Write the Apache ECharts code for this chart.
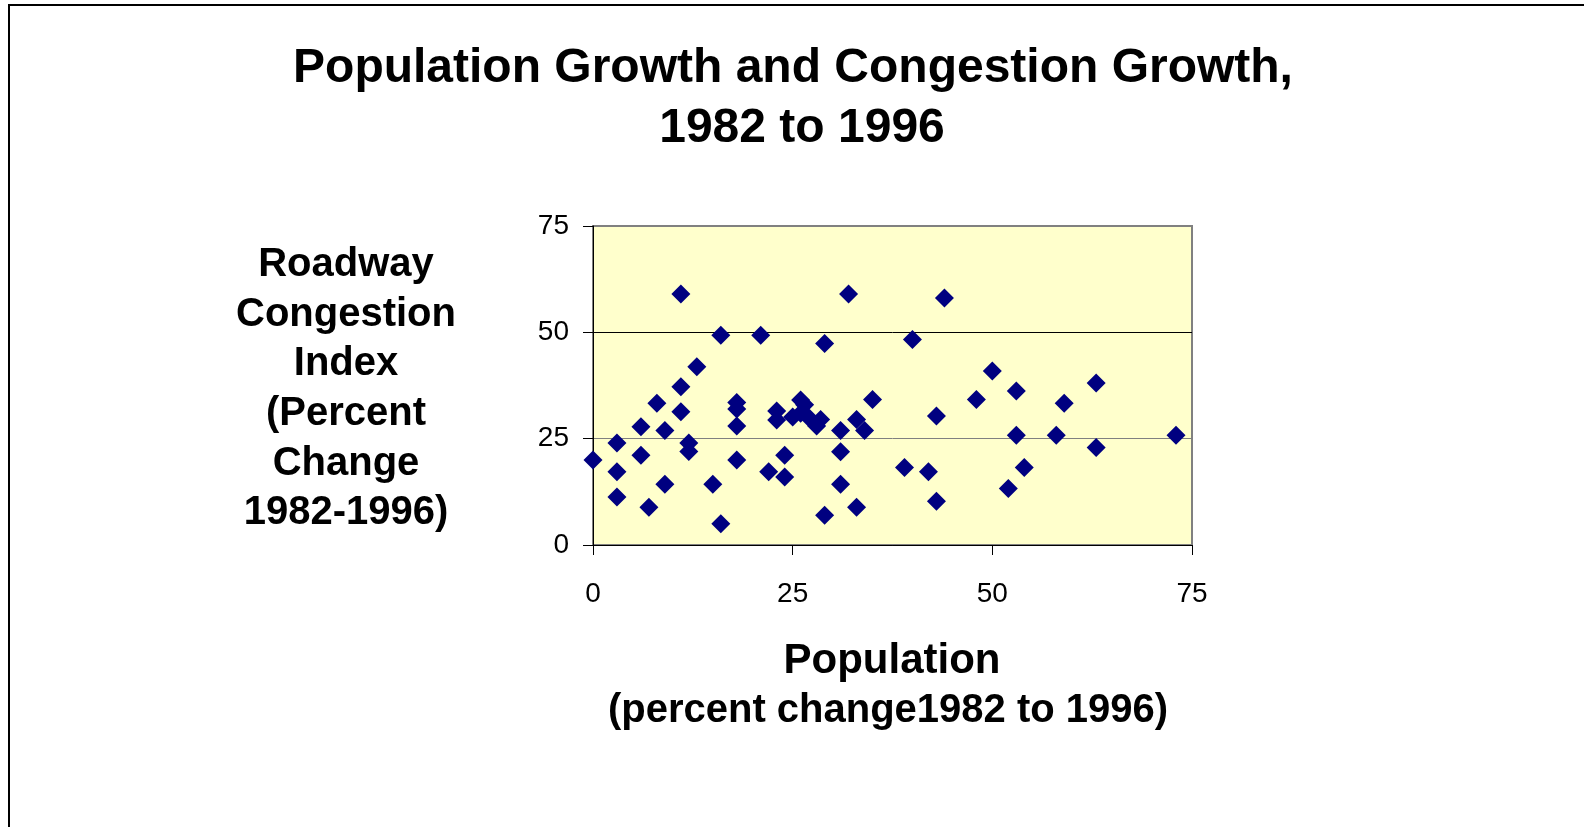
<!DOCTYPE html>
<html>
<head>
<meta charset="utf-8">
<title>Population Growth and Congestion Growth</title>
<script src="https://cdn.jsdelivr.net/npm/echarts@6/dist/echarts.min.js"></script>
<style>
  html, body { margin: 0; padding: 0; background: #fff; }
  .frame {
    position: absolute; left: 8px; top: 4px; width: 1574px; height: 830px;
    border-left: 2px solid #000; border-top: 2px solid #000;
  }
  #scatterChart { position: absolute; left: 0; top: 0; width: 1591px; height: 827px; }
</style>
</head>
<body>
<div class="frame"></div>
<div id="scatterChart"></div>
<script>
// percent change in population, 1982-1996 (x)
const popChange = [
  0, 3, 3, 3, 6, 6, 7, 8, 9, 9,
  11, 11, 11, 12, 12, 13, 15, 16, 16, 18,
  18, 18, 18, 21, 22, 23, 23, 24, 24, 25,
  26, 26.5, 26, 27, 28.5, 28, 29, 29, 31, 31,
  31, 32, 33, 33, 34, 35, 39, 40, 42, 43,
  43, 44, 48, 50, 52, 53, 53, 54, 58, 59,
  63, 63, 73
]
// percent change in roadway congestion index (y)
const congestionChange = [
  20, 24, 17.2, 11.3, 27.8, 21.1, 8.9, 33.3, 26.9, 14.3,
  59, 37.2, 31.3, 24, 22, 41.9, 14.3, 49.3, 5, 33.5,
  32, 28, 20, 49.3, 17.2, 31.5, 29.4, 21.1, 16, 30.1,
  34.1, 33, 31, 30, 29.5, 28, 47.4, 7, 26.9, 21.9,
  14.3, 59, 29.5, 8.9, 26.9, 34.2, 18.2, 48.3, 17.2, 30.3,
  10.3, 58.1, 34.2, 40.9, 13.3, 36.2, 25.8, 18.2, 25.8, 33.3,
  38.1, 22.9, 25.8
]

const font = 'Liberation Sans, Arial, sans-serif'
const points = popChange.map((x, i) => [x, congestionChange[i]])

const option = {
  animation: false,
  textStyle: { fontFamily: font },
  title: [
    {
      text: 'Population Growth and Congestion Growth,',
      left: 788,
      top: 34,
      textAlign: 'center',
      textStyle: { fontSize: 48, fontWeight: 'bold', color: '#000', lineHeight: 60, fontFamily: font }
    },
    {
      text: '1982 to 1996',
      left: 797,
      top: 94,
      textAlign: 'center',
      textStyle: { fontSize: 48, fontWeight: 'bold', color: '#000', lineHeight: 60, fontFamily: font }
    },
    {
      text: 'Roadway\nCongestion\nIndex\n(Percent\nChange\n1982-1996)',
      left: 341,
      top: 235,
      textAlign: 'center',
      textStyle: { fontSize: 40, fontWeight: 'bold', color: '#000', lineHeight: 49.7, fontFamily: font, align: 'center' }
    },
    {
      text: 'Population',
      left: 887,
      top: 631,
      textAlign: 'center',
      textStyle: { fontSize: 42, fontWeight: 'bold', color: '#000', lineHeight: 50, fontFamily: font }
    },
    {
      text: '(percent change1982 to 1996)',
      left: 883,
      top: 681,
      textAlign: 'center',
      textStyle: { fontSize: 40, fontWeight: 'bold', color: '#000', lineHeight: 50, fontFamily: font }
    }
  ],
  grid: {
    left: 593,
    top: 226,
    width: 599,
    height: 319,
    show: true,
    backgroundColor: '#FFFFCC',
    borderColor: '#808080',
    borderWidth: 2
  },
  xAxis: {
    type: 'value',
    min: 0,
    max: 75,
    interval: 25,
    axisLine: { show: true, onZero: false, lineStyle: { color: '#000', width: 1 } },
    axisTick: { show: true, inside: false, length: 10, lineStyle: { color: '#000' } },
    axisLabel: { fontSize: 28, color: '#000', margin: 35, fontFamily: font },
    splitLine: { show: false }
  },
  yAxis: {
    type: 'value',
    min: 0,
    max: 75,
    interval: 25,
    axisLine: { show: true, onZero: false, lineStyle: { color: '#000', width: 1 } },
    axisTick: { show: true, inside: false, length: 10, lineStyle: { color: '#000' } },
    axisLabel: { fontSize: 28, color: '#000', margin: 24, fontFamily: font },
    splitLine: { show: true, lineStyle: { color: ['#000', '#808080', '#000', '#808080'], width: 1 } }
  },
  series: [
    {
      type: 'scatter',
      symbol: 'diamond',
      symbolSize: 19,
      itemStyle: { color: '#000080', opacity: 1 },
      data: points
    }
  ]
}

const myChart = echarts.init(document.getElementById('scatterChart'))
myChart.setOption(option)
</script>
</body>
</html>
